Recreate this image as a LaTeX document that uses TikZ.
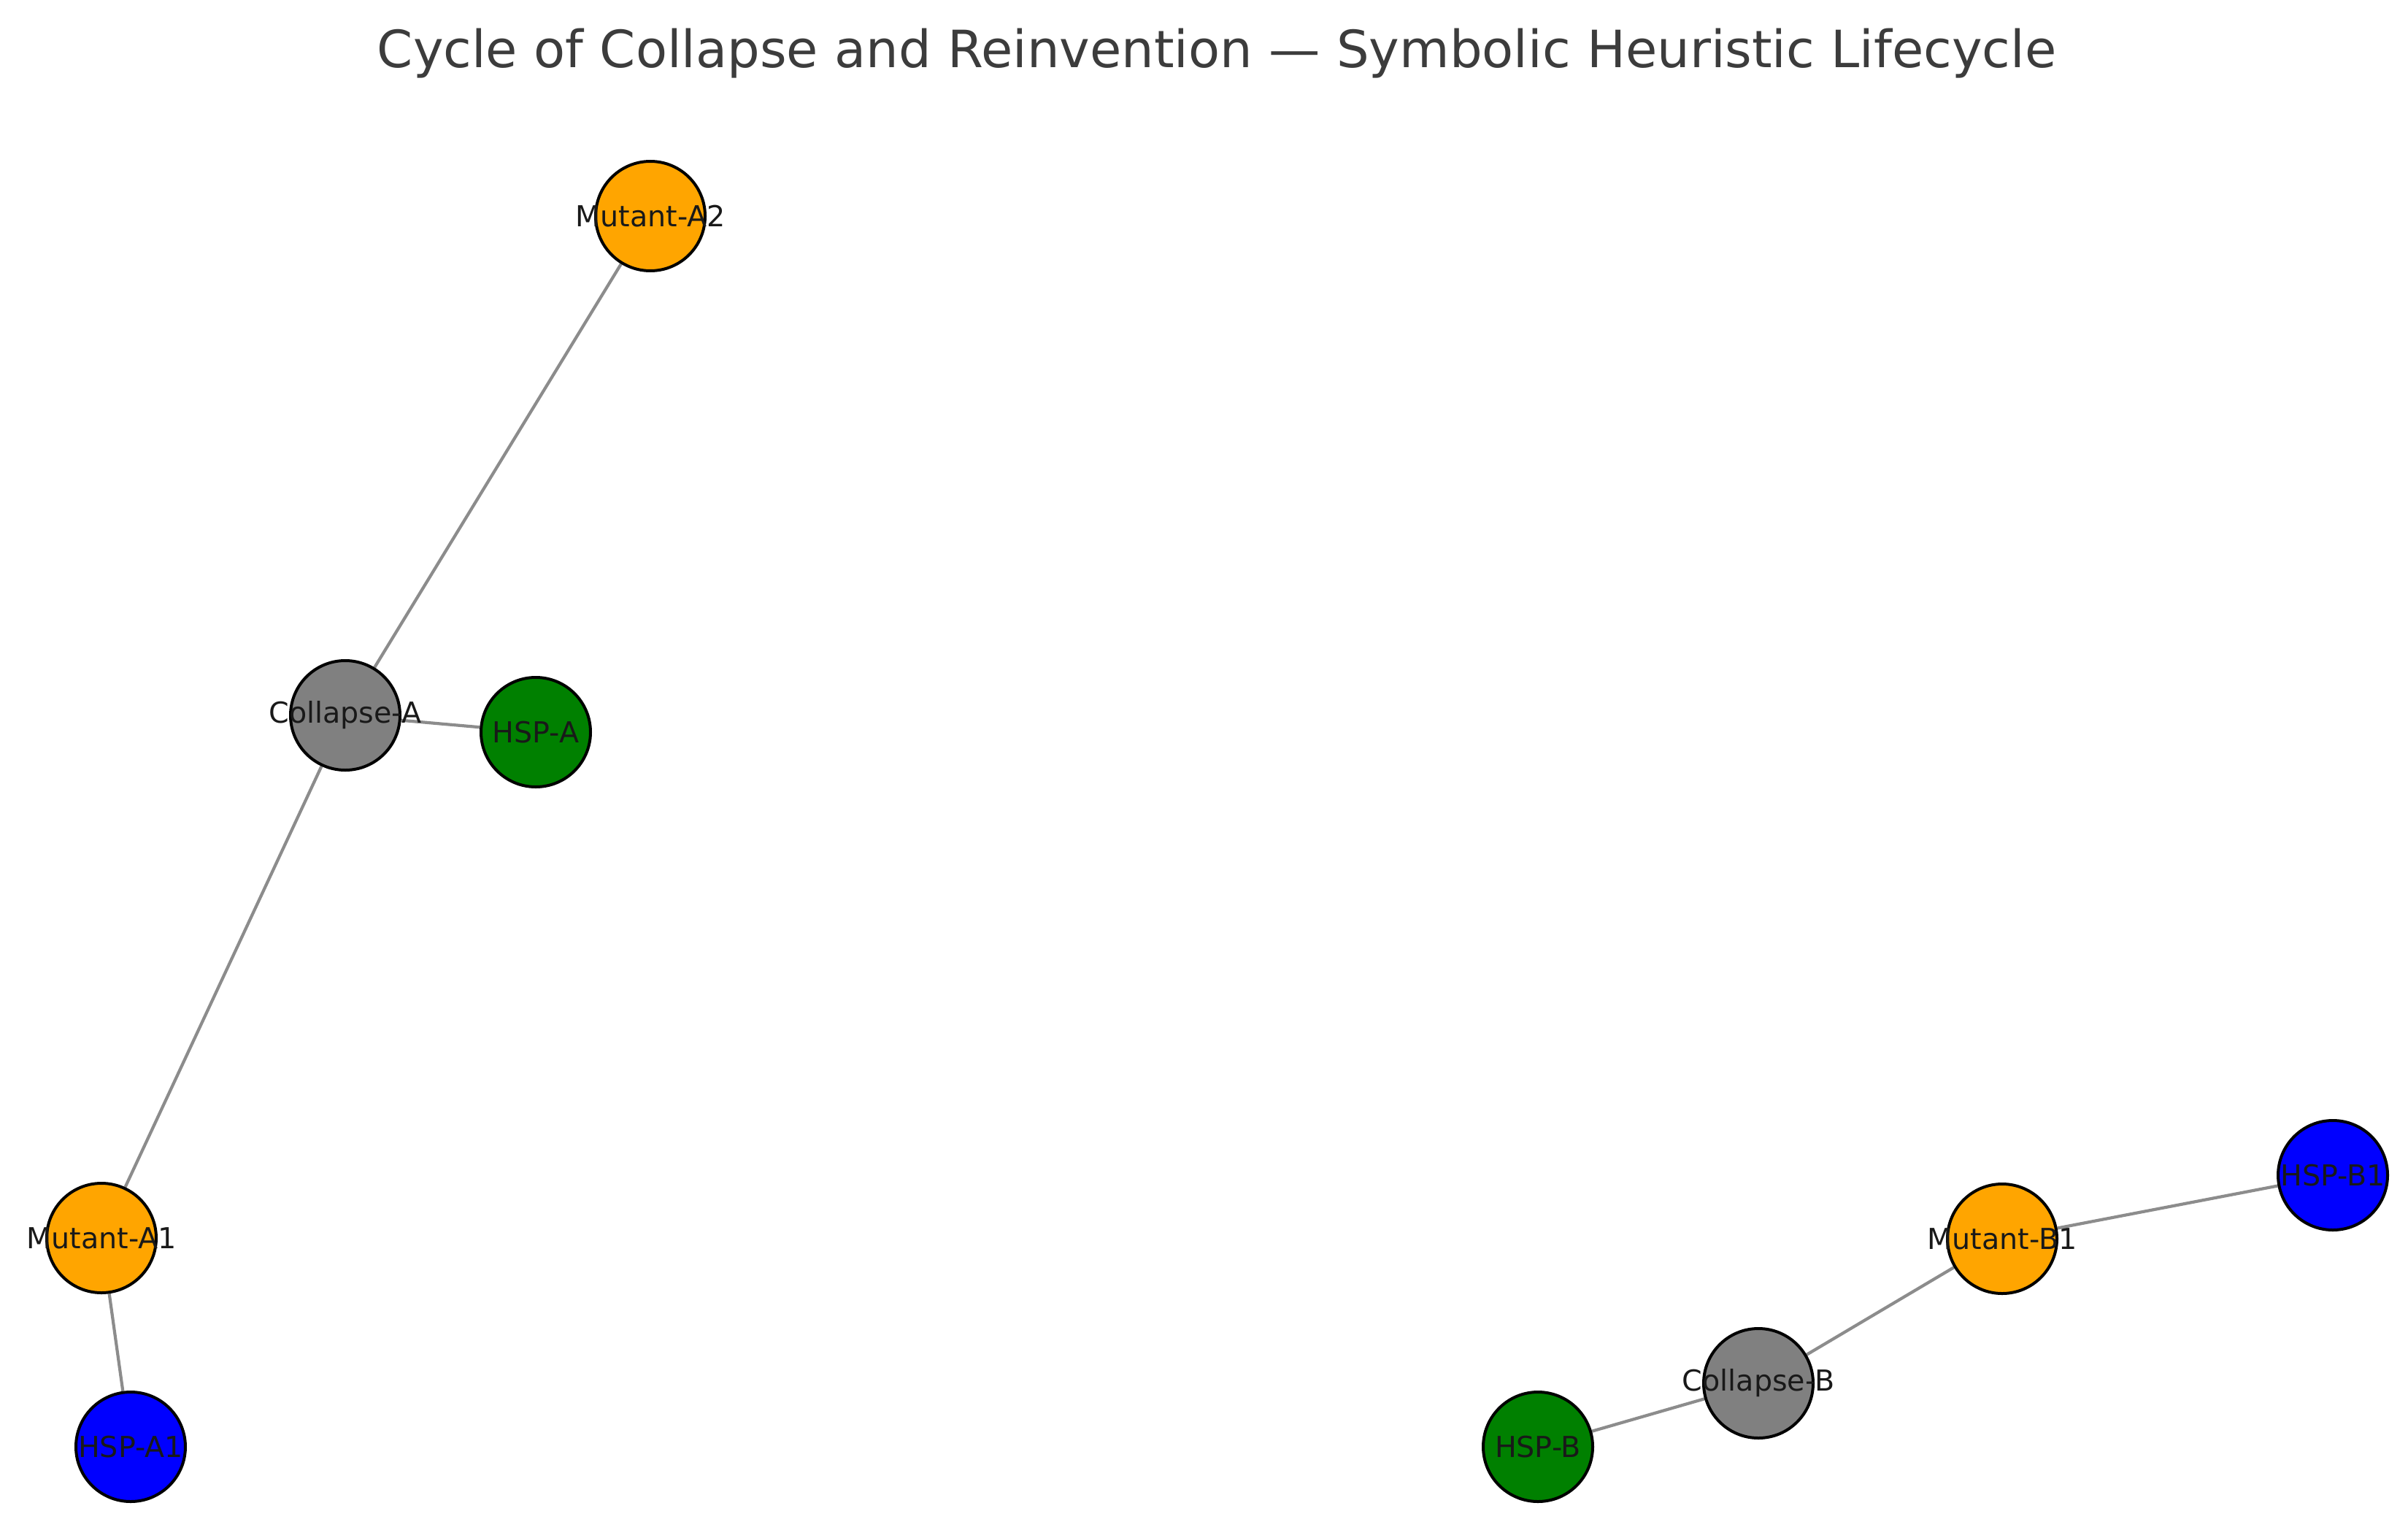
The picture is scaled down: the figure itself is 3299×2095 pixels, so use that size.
\documentclass[tikz,border=0pt]{standalone}
\usepackage{fontspec}
\setmainfont{DejaVu Sans}
\usetikzlibrary{backgrounds}
\definecolor{morange}{HTML}{FFA500}
\definecolor{mgreen}{HTML}{008000}
\definecolor{mblue}{HTML}{0000FF}
\definecolor{mgray}{HTML}{808080}
\definecolor{edgegray}{HTML}{8C8C8C}
\definecolor{titlegray}{HTML}{3C3C3C}
\tikzset{
  vtx/.style={circle, draw=black, line width=4pt, minimum size=150pt, inner sep=0pt,
    label={[font=\fontsize{39.6}{48}\selectfont, text=black!90]center:#1}},
  orangev/.style={vtx=#1, fill=morange},
  greenv/.style={vtx=#1, fill=mgreen},
  bluev/.style={vtx=#1, fill=mblue},
  grayv/.style={vtx=#1, fill=mgray},
  edge/.style={draw=edgegray, line width=4.2pt}
}
\begin{document}
\begin{tikzpicture}[x=1pt, y=-1pt]
\useasboundingbox (0,0) rectangle (3299,2095);
\node[font=\fontsize{70.4}{84}\selectfont, text=titlegray] (title) at (1667,73) {Cycle of Collapse and Reinvention — Symbolic Heuristic Lifecycle};
\node[orangev=Mutant-A2] (ma2) at (891,296) {};
\node[grayv=Collapse-A] (ca) at (473,980) {};
\node[greenv=HSP-A] (ha) at (734,1003) {};
\node[orangev=Mutant-A1] (ma1) at (139,1696) {};
\node[bluev=HSP-A1] (ha1) at (179,1982) {};
\node[bluev=HSP-B1] (hb1) at (3196,1610) {};
\node[orangev=Mutant-B1] (mb1) at (2743,1697) {};
\node[grayv=Collapse-B] (cb) at (2409,1895) {};
\node[greenv=HSP-B] (hb) at (2107,1982) {};
\begin{scope}[on background layer]
\draw[edge] (ma2) -- (ca);
\draw[edge] (ca) -- (ha);
\draw[edge] (ca) -- (ma1);
\draw[edge] (ma1) -- (ha1);
\draw[edge] (hb1) -- (mb1);
\draw[edge] (mb1) -- (cb);
\draw[edge] (cb) -- (hb);
\end{scope}
\end{tikzpicture}
\end{document}
